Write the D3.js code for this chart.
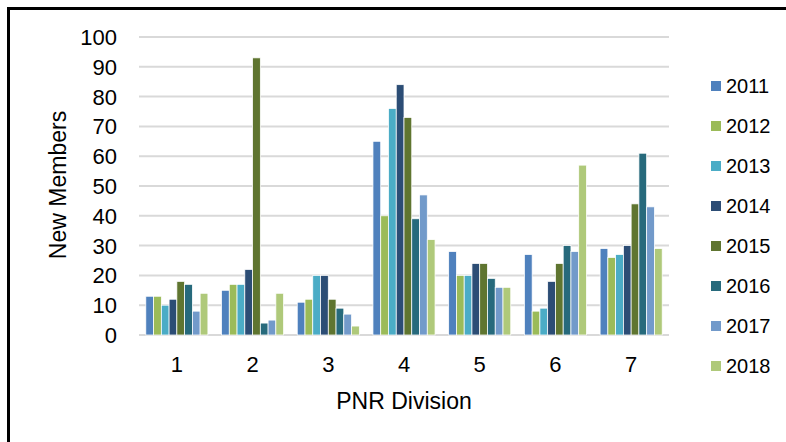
<!DOCTYPE html>
<html>
<head>
<meta charset="utf-8">
<script src="https://cdn.jsdelivr.net/npm/d3@7"></script>
<style>
  body { margin: 0; background: #fff; }
  text { font-family: "Liberation Sans", Arial, sans-serif; fill: #000; }
</style>
</head>
<body>
<div id="chart"></div>
<script>
// chart data
const divisions = ["1", "2", "3", "4", "5", "6", "7"];
const years = ["2011", "2012", "2013", "2014", "2015", "2016", "2017", "2018"];
const v2011 = [13, 15, 11, 65, 28, 27, 29];
const v2012 = [13, 17, 12, 40, 20, 8, 26];
const v2013 = [10, 17, 20, 76, 20, 9, 27];
const v2014 = [12, 22, 20, 84, 24, 18, 30];
const v2015 = [18, 93, 12, 73, 24, 24, 44];
const v2016 = [17, 4, 9, 39, 19, 30, 61];
const v2017 = [8, 5, 7, 47, 16, 28, 43];
const v2018 = [14, 14, 3, 32, 16, 57, 29];
const yTicks = [0, 10, 20, 30, 40, 50, 60, 70, 80, 90, 100];
const colors = ["#4f81bd", "#9bbb59", "#4bacc6", "#2c4d75", "#5f7530", "#276a7c", "#729aca", "#afc97a"];

const series = [v2011, v2012, v2013, v2014, v2015, v2016, v2017, v2018];

const W = 786, H = 442;
const margin = { top: 37, right: 117, bottom: 107, left: 139 };
const width = W - margin.left - margin.right;
const height = H - margin.top - margin.bottom;

const svg = d3.select("#chart").append("svg")
    .attr("width", W)
    .attr("height", H);

// outer frame (only top and left edges visible)
svg.append("rect")
    .attr("x", 8.5).attr("y", 8.5)
    .attr("width", W + 20).attr("height", H + 20)
    .attr("fill", "none")
    .attr("stroke", "#000")
    .attr("stroke-width", 3);

const g = svg.append("g")
    .attr("transform", `translate(${margin.left},${margin.top})`);

const x = d3.scaleBand().domain(divisions).range([0, width]).paddingInner(0).paddingOuter(0);
const x1 = d3.scaleBand().domain(years).range([x.bandwidth() * 0.09, x.bandwidth() * 0.91]);
const y = d3.scaleLinear().domain([0, 100]).range([height, 0]);

// gridlines
g.append("g")
    .selectAll("line")
    .data(yTicks)
    .join("line")
    .attr("x1", 0).attr("x2", width)
    .attr("y1", d => y(d)).attr("y2", d => y(d))
    .attr("stroke", "#d9d9d9")
    .attr("stroke-width", 2);

// y tick labels
g.append("g")
    .selectAll("text")
    .data(yTicks)
    .join("text")
    .attr("x", -22)
    .attr("y", d => y(d))
    .attr("dy", "0.36em")
    .attr("text-anchor", "end")
    .style("font-size", "22px")
    .text(d => d);

// bars
const groups = g.append("g")
    .selectAll("g")
    .data(series)
    .join("g")
    .attr("fill", (d, i) => colors[i]);

groups.selectAll("rect")
    .data((d, i) => d.map((v, j) => ({ year: years[i], div: divisions[j], value: v })))
    .join("rect")
    .attr("x", d => x(d.div) + x1(d.year))
    .attr("y", d => y(d.value))
    .attr("width", x1.bandwidth())
    .attr("height", d => height - y(d.value))
    .attr("stroke", "#fff")
    .attr("stroke-width", 0.75);

// x tick labels
g.append("g")
    .selectAll("text")
    .data(divisions)
    .join("text")
    .attr("x", d => x(d) + x.bandwidth() / 2)
    .attr("y", height + 37)
    .attr("text-anchor", "middle")
    .style("font-size", "22px")
    .text(d => d);

// axis titles
g.append("text")
    .attr("x", width / 2)
    .attr("y", height + 74)
    .attr("text-anchor", "middle")
    .style("font-size", "23px")
    .text("PNR Division");

g.append("text")
    .attr("transform", "rotate(-90)")
    .attr("x", -(185 - margin.top))
    .attr("y", 66 - margin.left)
    .attr("text-anchor", "middle")
    .style("font-size", "23px")
    .text("New Members");

// legend
const legend = svg.append("g")
    .selectAll("g")
    .data(years)
    .join("g")
    .attr("transform", (d, i) => `translate(711,${86 + i * 40})`);

legend.append("rect")
    .attr("x", 0).attr("y", -5)
    .attr("width", 10).attr("height", 10)
    .attr("fill", (d, i) => colors[i]);

legend.append("text")
    .attr("x", 15)
    .attr("y", 0)
    .attr("dy", "0.36em")
    .style("font-size", "20px")
    .text(d => d);
</script>
</body>
</html>
